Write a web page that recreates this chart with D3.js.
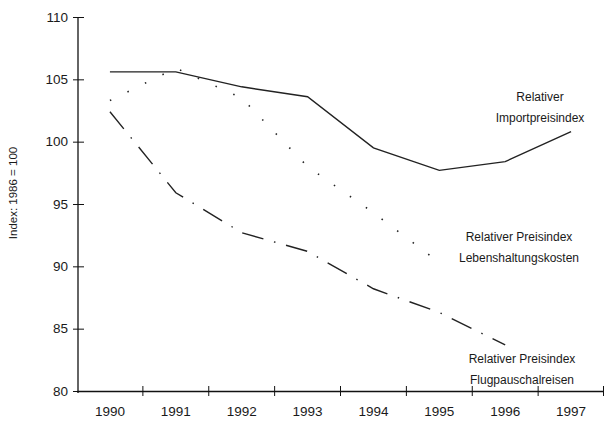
<!DOCTYPE html>
<html>
<head>
<meta charset="utf-8">
<script src="https://cdn.jsdelivr.net/npm/d3@7"></script>
<style>
  body { margin: 0; background: #fff; }
  text { font-family: "Liberation Sans", Arial, sans-serif; fill: #1a1a1a; }
</style>
</head>
<body>
<script>
// Values (index, 1986 = 100).
const years = [1990, 1991, 1992, 1993, 1994, 1995, 1996, 1997];
const importIdx = [105.6, 105.6, 104.4, 103.6, 99.5, 97.7, 98.4, 100.8];
const livingIdx = [103.3, 105.9, 103.5, 98.0, 94.3, 90.3];
const flightIdx = [102.4, 95.9, 92.7, 91.2, 88.2, 86.3, 83.7];
const yTicks = [80, 85, 90, 95, 100, 105, 110];

const width = 604, height = 426;

const svg = d3.select("body").append("svg")
  .attr("width", width)
  .attr("height", height);

// Scales
const x = d3.scaleBand().domain(years).range([77, 604]).padding(0);
const y = d3.scaleLinear().domain([80, 110]).range([391, 17]);
const cx = d => x(d) + x.bandwidth() / 2;

// Y axis
const yAxis = svg.append("g")
  .attr("transform", "translate(78,0)")
  .call(d3.axisLeft(y).tickValues(yTicks).tickSize(0).tickPadding(10));
yAxis.select(".domain").attr("stroke", "#111").attr("stroke-width", 1.3)
  .attr("d", "M0,17V393");
yAxis.selectAll(".tick line").attr("x1", -5).attr("x2", 6).attr("stroke", "#111");
yAxis.selectAll(".tick text").attr("font-size", 13.5).attr("fill", "#1a1a1a");

// X axis: labels centered in each band, ticks on the band edges
const xAxis = svg.append("g")
  .attr("transform", "translate(0,391)")
  .call(d3.axisBottom(x).tickSize(0).tickPadding(15));
xAxis.select(".domain").attr("stroke", "#111").attr("stroke-width", 1.3);
xAxis.selectAll(".tick text").attr("font-size", 13.5).attr("fill", "#1a1a1a");
xAxis.selectAll(".edge")
  .data(years.slice(1).concat([null]))
  .enter().append("line")
  .attr("class", "edge")
  .attr("x1", (d, i) => d === null ? x(years[i]) + x.bandwidth() - 0.5 : x(d))
  .attr("x2", (d, i) => d === null ? x(years[i]) + x.bandwidth() - 0.5 : x(d))
  .attr("y1", -5).attr("y2", 5)
  .attr("stroke", "#111");

// Y axis title
svg.append("text")
  .attr("transform", "translate(17,193) rotate(-90)")
  .attr("text-anchor", "middle")
  .attr("font-size", 11.5)
  .text("Index: 1986 = 100");

// Lines
const line = d3.line()
  .x((d, i) => cx(years[i]))
  .y(d => y(d));

svg.append("path")
  .datum(importIdx)
  .attr("fill", "none")
  .attr("stroke", "#222")
  .attr("stroke-width", 1.4)
  .attr("d", line);

svg.append("path")
  .datum(livingIdx)
  .attr("fill", "none")
  .attr("stroke", "#222")
  .attr("stroke-width", 1.6)
  .attr("stroke-dasharray", "1.5,18")
  .attr("d", line);

svg.append("path")
  .datum(flightIdx)
  .attr("fill", "none")
  .attr("stroke", "#222")
  .attr("stroke-width", 1.4)
  .attr("stroke-dasharray", "22,11,1.5,11")
  .attr("d", line);

// Series labels
const labels = [
  { lines: ["Relativer", "Importpreisindex"], x: 540, y: 101 },
  { lines: ["Relativer Preisindex", "Lebenshaltungskosten"], x: 519, y: 241 },
  { lines: ["Relativer Preisindex", "Flugpauschalreisen"], x: 522, y: 363 }
];
labels.forEach(l => {
  const t = svg.append("text")
    .attr("text-anchor", "middle")
    .attr("font-size", 12);
  l.lines.forEach((s, i) => {
    t.append("tspan")
      .attr("x", l.x)
      .attr("y", l.y + i * 21)
      .text(s);
  });
});
</script>
</body>
</html>
